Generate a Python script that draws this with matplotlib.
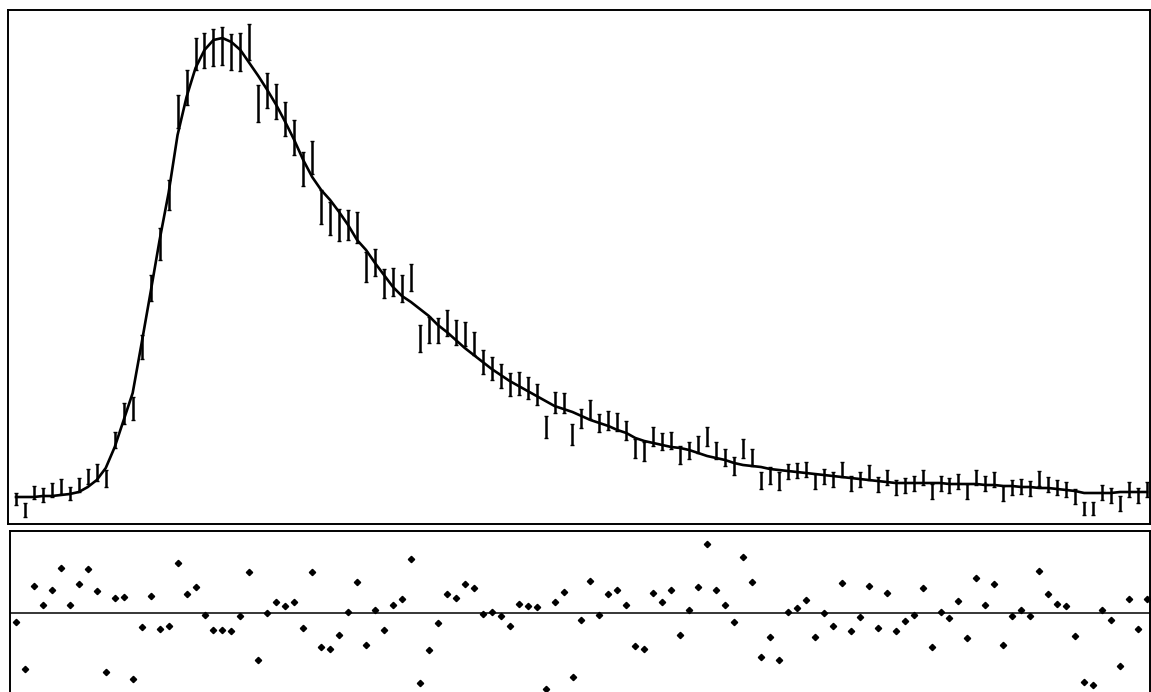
import numpy as np
import matplotlib
matplotlib.use("Agg")
import matplotlib.pyplot as plt

# channel numbers (one per measured point)
channel = np.arange(127)

counts = [
    50, 28, 64, 58, 68, 76, 62, 78, 96, 104,
    92, 168, 222, 232, 354, 472, 560, 658, 826, 874,
    940, 948, 954, 956, 944, 944, 964, 842, 868, 846,
    810, 774, 710, 734, 634, 612, 598, 598, 594, 514,
    524, 482, 484, 472, 494, 372, 388, 388, 402, 384,
    380, 362, 324, 312, 296, 280, 282, 272, 260, 194,
    244, 242, 180, 212, 230, 202, 208, 204, 188, 152,
    146, 176, 166, 168, 138, 148, 160, 176, 148, 134,
    116, 152, 134, 88, 98, 86, 106, 108, 110, 86,
    96, 90, 110, 82, 90, 104, 80, 94, 74, 78,
    82, 94, 66, 82, 78, 86, 66, 94, 82, 90,
    62, 74, 76, 72, 92, 80, 74, 70, 56, 32,
    32, 64, 58, 42, 70, 58, 70,
]

# error bar half-lengths
errors = [
    12, 14, 13, 14, 14, 15, 13, 14, 15, 17,
    17, 16, 21, 23, 24, 26, 32, 30, 33, 35,
    32, 35, 37, 38, 36, 38, 36, 37, 35, 35,
    34, 35, 34, 33, 34, 33, 32, 30, 31, 30,
    27, 29, 28, 27, 27, 27, 26, 25, 26, 25,
    24, 23, 24, 23, 24, 23, 23, 22, 21, 22,
    21, 20, 21, 19, 19, 18, 19, 18, 19, 19,
    19, 19, 17, 17, 18, 17, 17, 19, 17, 17,
    18, 19, 17, 17, 17, 18, 15, 15, 15, 15,
    15, 15, 15, 15, 15, 15, 15, 15, 15, 15,
    15, 15, 15, 15, 15, 15, 15, 15, 15, 15,
    15, 15, 15, 15, 15, 15, 15, 15, 15, 13,
    13, 15, 15, 15, 15, 15, 15,
]

# fitted curve at each channel
fit = [
    54, 54, 54, 56, 56, 58, 60, 64, 74, 88,
    112, 154, 208, 262, 362, 464, 568, 662, 778, 854,
    912, 948, 968, 972, 964, 948, 922, 896, 868, 838,
    804, 768, 728, 694, 668, 648, 624, 598, 568, 548,
    522, 498, 474, 456, 444, 430, 416, 398, 384, 368,
    352, 338, 324, 310, 298, 286, 276, 266, 256, 246,
    236, 230, 224, 216, 208, 202, 196, 188, 182, 172,
    166, 162, 158, 154, 152, 148, 142, 136, 132, 128,
    122, 118, 116, 114, 110, 108, 106, 104, 102, 100,
    98, 96, 94, 92, 90, 88, 86, 84, 82, 82,
    82, 82, 82, 82, 80, 80, 80, 80, 78, 78,
    76, 76, 74, 74, 72, 72, 70, 68, 66, 62,
    62, 62, 62, 64, 64, 64, 64,
]

# weighted residuals
residuals = [
    -0.30, -1.87, 0.90, 0.27, 0.77, 1.50, 0.27, 0.97, 1.47, 0.73,
    -1.97, 0.50, 0.53, -2.20, -0.47, 0.57, -0.53, -0.43, 1.67, 0.63,
    0.87, -0.07, -0.57, -0.57, -0.60, -0.10, 1.37, -1.57, 0.00, 0.37,
    0.23, 0.37, -0.50, 1.37, -1.13, -1.20, -0.73, 0.03, 1.03, -1.07,
    0.10, -0.57, 0.27, 0.47, 1.80, -2.33, -1.23, -0.33, 0.63, 0.50,
    0.97, 0.83, -0.03, 0.03, -0.10, -0.43, 0.30, 0.23, 0.20, -2.53,
    0.37, 0.70, -2.13, -0.23, 1.07, -0.07, 0.63, 0.77, 0.27, -1.10,
    -1.20, 0.67, 0.37, 0.77, -0.73, 0.10, 0.87, 2.30, 0.77, 0.27,
    -0.30, 1.87, 1.03, -1.47, -0.80, -1.57, 0.03, 0.17, 0.43, -0.80,
    0.00, -0.43, 1.00, -0.60, -0.13, 0.90, -0.50, 0.67, -0.60, -0.27,
    -0.07, 0.83, -1.13, 0.03, -0.17, 0.40, -0.83, 1.17, 0.27, 0.97,
    -1.07, -0.10, 0.10, -0.10, 1.40, 0.63, 0.30, 0.23, -0.77, -2.30,
    -2.40, 0.10, -0.23, -1.77, 0.47, -0.53, 0.47,
]

W, H = 1151, 692
fig = plt.figure(figsize=(W / 100, H / 100), dpi=100)

# main panel: data with error bars and fit
ax = fig.add_axes([8 / W, 1 - 524 / H, (1150 - 8) / W, (524 - 10) / H])
ax.errorbar(channel, counts, yerr=errors, fmt="none", ecolor="black",
            elinewidth=1.8, capsize=1.4, capthick=1.0)
ax.plot(channel, fit, color="black", lw=1.9)
ax.set_xlim(-0.89, 126.34)
ax.set_ylim(0, 1028)
ax.set_xticks([])
ax.set_yticks([])
for s in ax.spines.values():
    s.set_linewidth(1.4)

# residual panel
ax2 = fig.add_axes([10 / W, 0, (1150 - 10) / W, (692 - 531) / H])
ax2.axhline(0, color="black", lw=1.1)
ax2.plot(channel, residuals, ls="none", marker="D", ms=3.2, color="black")
ax2.set_xlim(-0.67, 126.34)
ax2.set_ylim(-2.63, 2.73)
ax2.set_xticks([])
ax2.set_yticks([])
ax2.spines["bottom"].set_visible(False)
for s in ax2.spines.values():
    s.set_linewidth(1.4)

fig.savefig("out.png", dpi=100)
